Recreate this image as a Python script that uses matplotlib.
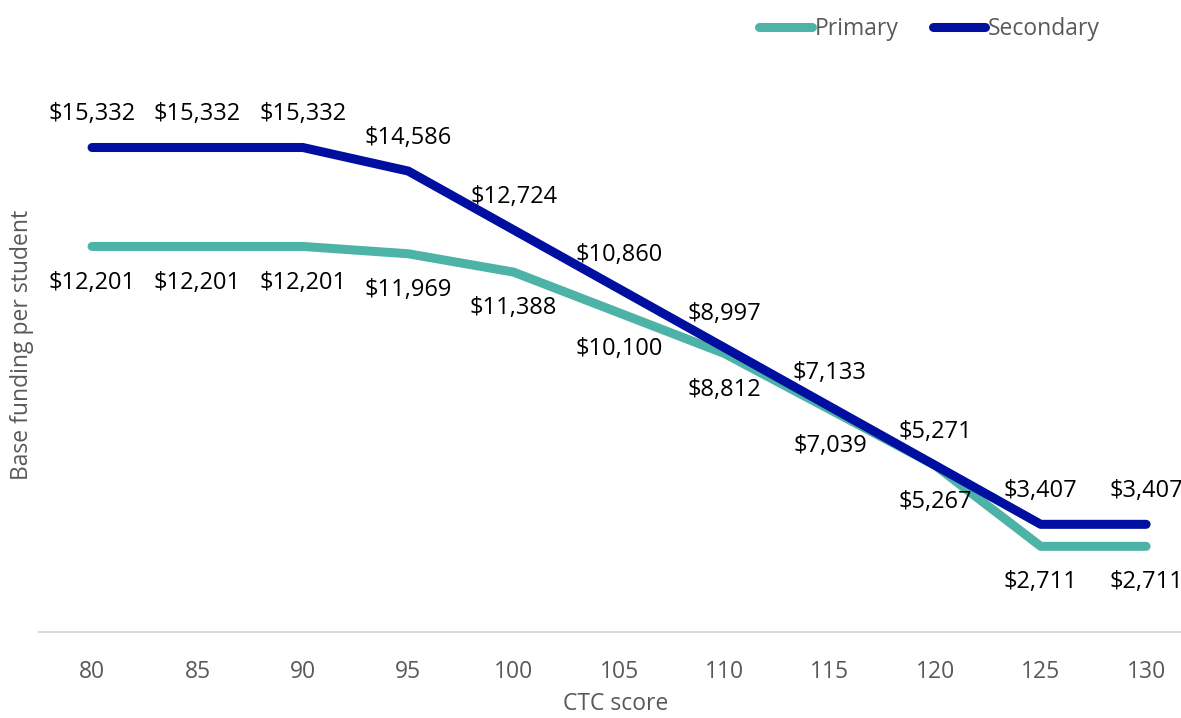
import matplotlib.pyplot as plt

# Data
ctc_scores = [80, 85, 90, 95, 100, 105, 110, 115, 120, 125, 130]
primary = [12201, 12201, 12201, 11969, 11388, 10100, 8812, 7039, 5267, 2711, 2711]
secondary = [15332, 15332, 15332, 14586, 12724, 10860, 8997, 7133, 5271, 3407, 3407]

PRIMARY_COLOR = '#4DB3A7'
SECONDARY_COLOR = '#000F9F'
GREY = '#595959'
FONT = 'Open Sans'
FS = 17

plt.rcParams['font.family'] = [FONT, 'DejaVu Sans']

fig = plt.figure(figsize=(11.81, 7.18), dpi=100)
ax = fig.add_axes([0.0333, 0.1198, 0.9818, 0.8802])

x = list(range(len(ctc_scores)))
ax.plot(x, primary, color=PRIMARY_COLOR, lw=6.5, solid_capstyle='round',
        solid_joinstyle='round', label='Primary')
ax.plot(x, secondary, color=SECONDARY_COLOR, lw=6.5, solid_capstyle='round',
        solid_joinstyle='round', label='Secondary')

# data labels: secondary above, primary below
for xi, v in zip(x, secondary):
    ax.annotate(f'${v:,}', (xi, v), xytext=(0, 24), textcoords='offset points',
                ha='center', va='center', fontsize=FS, color='black')
for xi, v in zip(x, primary):
    ax.annotate(f'${v:,}', (xi, v), xytext=(0, -26), textcoords='offset points',
                ha='center', va='center', fontsize=FS, color='black')

ax.set_xlim(-0.5, len(x) - 0.5)
ax.set_ylim(0, 20000)
ax.set_xticks(x)
ax.set_xticklabels([str(s) for s in ctc_scores], fontsize=FS - 0.5, color=GREY)
ax.set_yticks([])
ax.tick_params(axis='x', length=0, pad=20)

for side in ['top', 'right', 'left']:
    ax.spines[side].set_visible(False)
ax.spines['bottom'].set_color('#D9D9D9')
ax.spines['bottom'].set_linewidth(1.5)

fig.text(0.0186, 0.52, 'Base funding per student', rotation=90, ha='center',
         va='center', fontsize=FS - 0.5, color=GREY)
fig.text(0.521, 0.02, 'CTC score', ha='center', va='center',
         fontsize=FS - 0.5, color=GREY)

leg = fig.legend(loc='center', bbox_to_anchor=(0.787, 0.96), ncol=2,
                 frameon=False, fontsize=FS - 0.5, handlelength=2.3,
                 handletextpad=0.12, columnspacing=1.5)
for t in leg.get_texts():
    t.set_color(GREY)

fig.savefig('out.png', dpi=100)
